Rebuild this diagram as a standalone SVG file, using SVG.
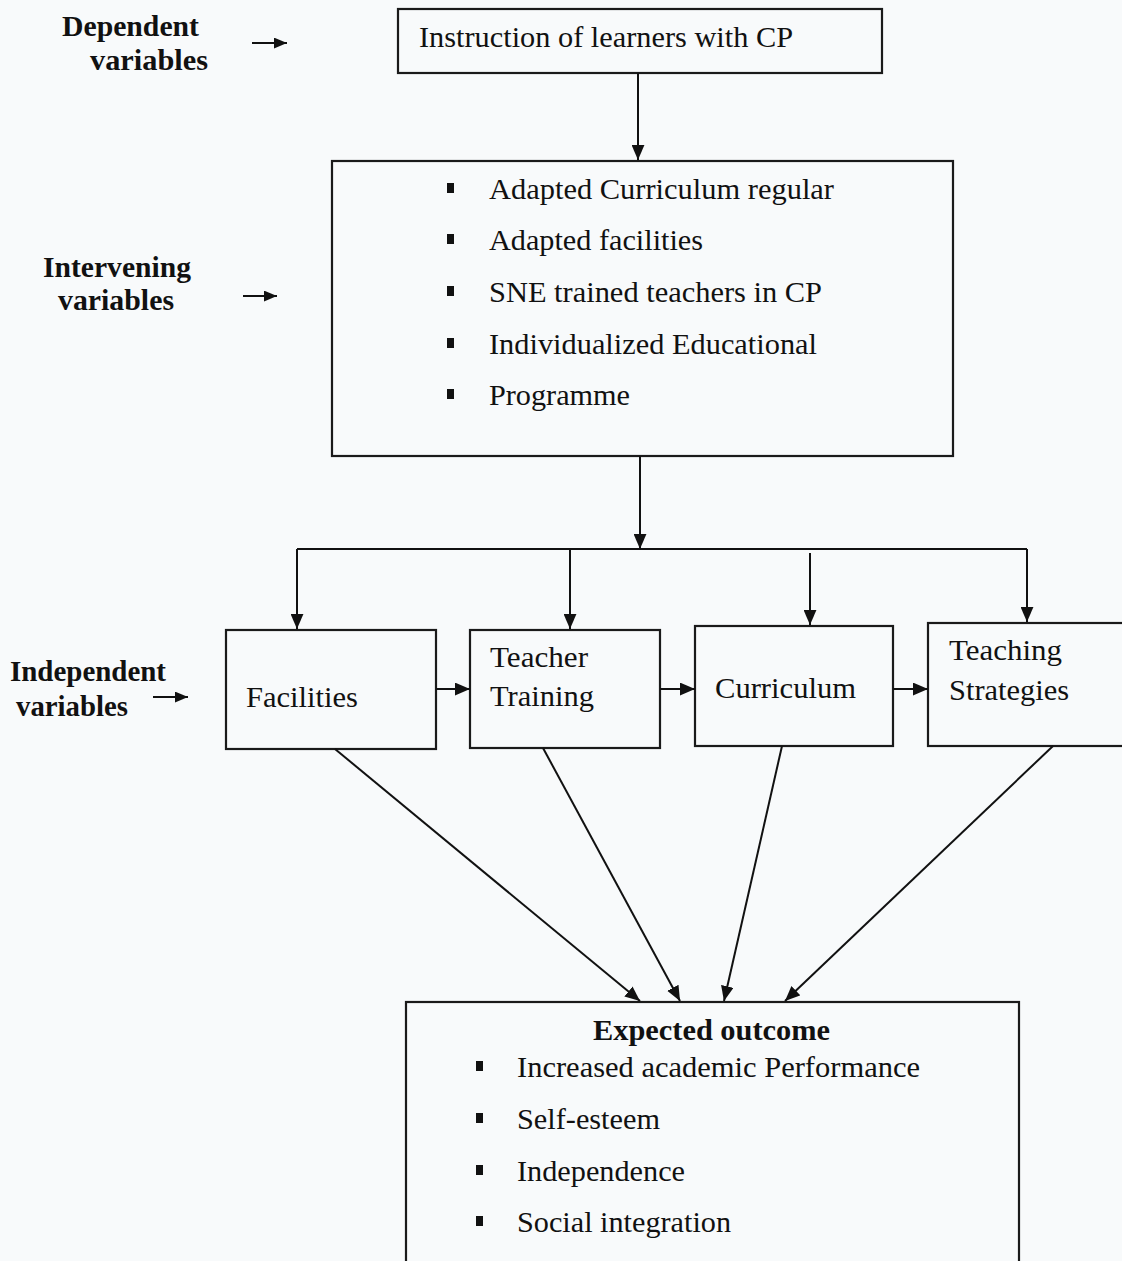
<svg xmlns="http://www.w3.org/2000/svg" width="1122" height="1261" viewBox="0 0 1122 1261">
<defs>
<marker id="ah" viewBox="0 0 14 12" refX="14" refY="6" markerWidth="15" markerHeight="13" markerUnits="userSpaceOnUse" orient="auto">
<path d="M0,0 L14,6 L0,12 z" fill="#111"/>
</marker>
<marker id="ahs" viewBox="0 0 12 10" refX="12" refY="5" markerWidth="13" markerHeight="11" markerUnits="userSpaceOnUse" orient="auto">
<path d="M0,0 L12,5 L0,10 z" fill="#111"/>
</marker>
</defs>
<style>
.box{fill:none;stroke:#1a1a1a;stroke-width:2.2}
.t{font-family:'Liberation Serif',serif;font-size:30px;fill:#111}
.b{font-family:'Liberation Serif',serif;font-size:30px;font-weight:bold;fill:#111}
.c{fill:none;stroke:#111;stroke-width:2}
.bul{fill:#111}
</style>
<rect width="1122" height="1261" fill="#f8fafb"/>

<g id="label-dependent">
<text class="b" x="62" y="36" textLength="137" lengthAdjust="spacingAndGlyphs">Dependent</text>
<text class="b" x="90" y="70" textLength="118" lengthAdjust="spacingAndGlyphs">variables</text>
</g>
<g id="label-intervening">
<text class="b" x="43" y="277" textLength="148" lengthAdjust="spacingAndGlyphs">Intervening</text>
<text class="b" x="58" y="310" textLength="116" lengthAdjust="spacingAndGlyphs">variables</text>
</g>
<g id="label-independent">
<text class="b" x="10" y="681" textLength="156" lengthAdjust="spacingAndGlyphs">Independent</text>
<text class="b" x="16" y="716" textLength="112" lengthAdjust="spacingAndGlyphs">variables</text>
</g>

<g id="node-instruction">
<rect class="box" x="398" y="9" width="484" height="64"/>
<text class="t" x="419" y="47" textLength="374" lengthAdjust="spacingAndGlyphs">Instruction of learners with CP</text>
</g>

<g id="node-intervening">
<rect class="box" x="332" y="161" width="621" height="295"/>
<rect class="bul" x="447" y="183" width="7" height="10"/>
<text class="t" x="489" y="199" textLength="345" lengthAdjust="spacingAndGlyphs">Adapted Curriculum regular</text>
<rect class="bul" x="447" y="234" width="7" height="10"/>
<text class="t" x="489" y="250" textLength="214" lengthAdjust="spacingAndGlyphs">Adapted facilities</text>
<rect class="bul" x="447" y="286" width="7" height="10"/>
<text class="t" x="489" y="302" textLength="333" lengthAdjust="spacingAndGlyphs">SNE trained teachers in CP</text>
<rect class="bul" x="447" y="338" width="7" height="10"/>
<text class="t" x="489" y="354" textLength="328" lengthAdjust="spacingAndGlyphs">Individualized Educational</text>
<rect class="bul" x="447" y="389" width="7" height="10"/>
<text class="t" x="489" y="405" textLength="141" lengthAdjust="spacingAndGlyphs">Programme</text>
</g>

<g id="node-facilities">
<rect class="box" x="226" y="630" width="210" height="119"/>
<text class="t" x="246" y="707" textLength="112" lengthAdjust="spacingAndGlyphs">Facilities</text>
</g>
<g id="node-teacher-training">
<rect class="box" x="470" y="630" width="190" height="118"/>
<text class="t" x="490" y="667" textLength="98" lengthAdjust="spacingAndGlyphs">Teacher</text>
<text class="t" x="490" y="706" textLength="104" lengthAdjust="spacingAndGlyphs">Training</text>
</g>
<g id="node-curriculum">
<rect class="box" x="695" y="626" width="198" height="120"/>
<text class="t" x="715" y="698" textLength="141" lengthAdjust="spacingAndGlyphs">Curriculum</text>
</g>
<g id="node-teaching-strategies">
<rect class="box" x="928" y="623" width="200" height="123"/>
<text class="t" x="949" y="660" textLength="113" lengthAdjust="spacingAndGlyphs">Teaching</text>
<text class="t" x="949" y="700" textLength="120" lengthAdjust="spacingAndGlyphs">Strategies</text>
</g>

<g id="node-outcome">
<rect class="box" x="406" y="1002" width="613" height="270"/>
<text class="b" x="593" y="1040" textLength="237" lengthAdjust="spacingAndGlyphs">Expected outcome</text>
<rect class="bul" x="476" y="1061" width="7" height="10"/>
<text class="t" x="517" y="1077" textLength="403" lengthAdjust="spacingAndGlyphs">Increased academic Performance</text>
<rect class="bul" x="476" y="1113" width="7" height="10"/>
<text class="t" x="517" y="1129" textLength="143" lengthAdjust="spacingAndGlyphs">Self-esteem</text>
<rect class="bul" x="476" y="1165" width="7" height="10"/>
<text class="t" x="517" y="1181" textLength="168" lengthAdjust="spacingAndGlyphs">Independence</text>
<rect class="bul" x="476" y="1216" width="7" height="10"/>
<text class="t" x="517" y="1232" textLength="214" lengthAdjust="spacingAndGlyphs">Social integration</text>
</g>

<g id="connectors">
<line class="c" x1="252" y1="43" x2="287" y2="43" marker-end="url(#ahs)"/>
<line class="c" x1="243" y1="296" x2="277" y2="296" marker-end="url(#ahs)"/>
<line class="c" x1="153" y1="697" x2="188" y2="697" marker-end="url(#ahs)"/>

<line class="c" x1="638" y1="73" x2="638" y2="160" marker-end="url(#ah)"/>
<line class="c" x1="640" y1="456" x2="640" y2="549" marker-end="url(#ah)"/>
<line class="c" x1="297" y1="549" x2="1027" y2="549"/>
<line class="c" x1="297" y1="549" x2="297" y2="629" marker-end="url(#ah)"/>
<line class="c" x1="570" y1="549" x2="570" y2="629" marker-end="url(#ah)"/>
<line class="c" x1="810" y1="553" x2="810" y2="625" marker-end="url(#ah)"/>
<line class="c" x1="1027" y1="549" x2="1027" y2="622" marker-end="url(#ah)"/>

<line class="c" x1="436" y1="689" x2="470" y2="689" marker-end="url(#ah)"/>
<line class="c" x1="660" y1="689" x2="695" y2="689" marker-end="url(#ah)"/>
<line class="c" x1="893" y1="689" x2="928" y2="689" marker-end="url(#ah)"/>

<line class="c" x1="335" y1="749" x2="640" y2="1001" marker-end="url(#ah)"/>
<line class="c" x1="543" y1="748" x2="680" y2="1001" marker-end="url(#ah)"/>
<line class="c" x1="782" y1="746" x2="724" y2="1001" marker-end="url(#ah)"/>
<line class="c" x1="1053" y1="746" x2="785" y2="1001" marker-end="url(#ah)"/>
</g>
</svg>
